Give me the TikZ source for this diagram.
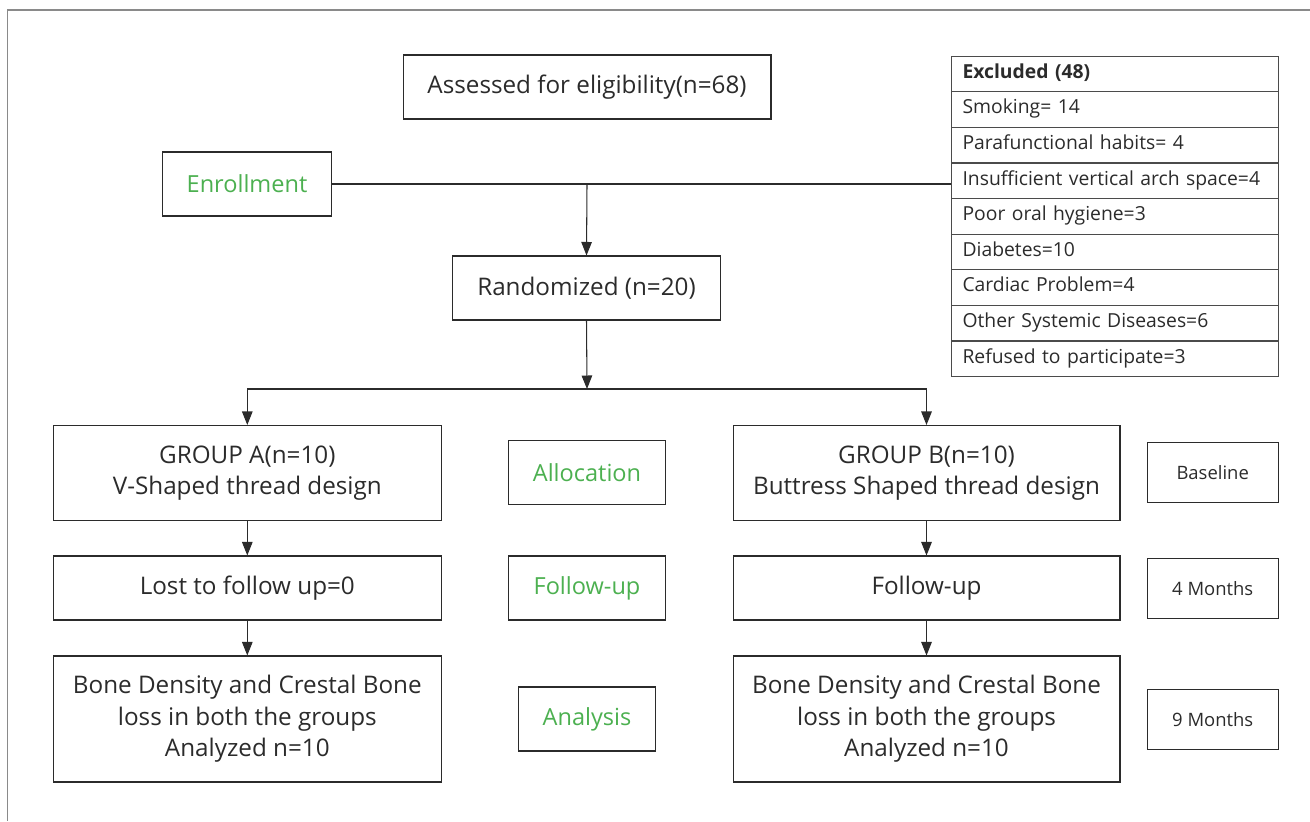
\documentclass[tikz,border=0pt]{standalone}
\usepackage{fontspec}
\setmainfont{Open Sans}
\usetikzlibrary{arrows.meta}
\definecolor{txt}{HTML}{2B2B2B}
\definecolor{grn}{HTML}{4CB050}
\definecolor{framegray}{HTML}{8A8A8A}
\begin{document}
\begin{tikzpicture}[x=0.02cm, y=-0.02cm, >={Triangle[length=2.7mm,width=2.1mm]},
  box/.style={draw=txt, line width=0.6pt, text=txt, align=center, inner sep=0pt, font=\fontsize{13.8}{18}\selectfont},
  lab/.style={box, text=grn, font=\fontsize{13.4}{16}\selectfont},
  tm/.style={box, font=\fontsize{10.5}{13}\selectfont},
  row/.style={draw=txt!85, line width=0.6pt, text=txt, anchor=north west, text width=6.1cm, inner xsep=0.22cm, inner ysep=0pt, minimum height=0.712cm, text height=2.4mm, text depth=0.7mm, font=\fontsize{11}{12}\selectfont},
  conn/.style={draw=txt, line width=0.6pt}]
\useasboundingbox (0,0) rectangle (1310,821);
\draw[framegray, line width=1pt] (1310,10) -- (7.5,10) -- (7.5,821);

\node[box, minimum width=7.36cm, minimum height=1.28cm] (assess) at (587,87) {Assessed for eligibility(n=68)};
\node[lab, minimum width=3.38cm, minimum height=1.28cm] (enroll) at (247,184) {Enrollment};
\node[box, minimum width=5.36cm, minimum height=1.28cm] (rand) at (586.5,288) {Randomized (n=20)};

\foreach \t [count=\i] in {\textbf{Excluded (48)}, Smoking= 14, Parafunctional habits= 4,
  Insufficient vertical arch space=4, Poor oral hygiene=3, Diabetes=10, Cardiac Problem=4,
  Other Systemic Diseases=6, Refused to participate=3}
  \node[row] (ex\i) at (951,{55.7+35.6*(\i-1)}) {\t};

\node[box, minimum width=7.76cm, minimum height=1.9cm] (groupA) at (247.3,473) {GROUP A(n=10)\\V-Shaped thread design};
\node[lab, minimum width=3.14cm, minimum height=1.28cm] (alloc) at (587,472.3) {Allocation};
\node[box, minimum width=7.74cm, minimum height=1.9cm] (groupB) at (926.5,473) {GROUP B(n=10)\\Buttress Shaped thread design};
\node[tm, minimum width=2.62cm, minimum height=1.2cm] (base) at (1212.7,472.3) {Baseline};

\node[box, minimum width=7.76cm, minimum height=1.28cm] (lostA) at (247.3,588) {Lost to follow up=0};
\node[lab, minimum width=3.14cm, minimum height=1.28cm] (fup) at (587,588) {Follow-up};
\node[box, minimum width=7.74cm, minimum height=1.28cm] (fupB) at (926.5,588) {Follow-up};
\node[tm, minimum width=2.62cm, minimum height=1.2cm] (mon4) at (1212.7,588.3) {4 Months};

\node[box, minimum width=7.76cm, minimum height=2.52cm] (boneA) at (247.3,719) {Bone Density and Crestal Bone\\loss in both the groups\\Analyzed n=10};
\node[lab, minimum width=2.74cm, minimum height=1.28cm] (anl) at (587,719) {Analysis};
\node[box, minimum width=7.74cm, minimum height=2.52cm] (boneB) at (926.5,719) {Bone Density and Crestal Bone\\loss in both the groups\\Analyzed n=10};
\node[tm, minimum width=2.62cm, minimum height=1.2cm] (mon9) at (1212.7,719.3) {9 Months};

\coordinate (s1) at (587,184);
\coordinate (s2) at (587,389);
\coordinate (ca) at (groupA.north |- s2);
\coordinate (cb) at (groupB.north |- s2);
\draw[conn] (enroll.east) -- (enroll.east -| ex4.west);
\draw[conn,->] (s1) -- (rand.north);
\draw[conn,->] (rand.south) -- (s2);
\draw[conn] (ca) -- (cb);
\draw[conn,->] (ca) -- (groupA.north);
\draw[conn,->] (cb) -- (groupB.north);
\draw[conn,->] (groupA) -- (lostA);
\draw[conn,->] (lostA) -- (boneA);
\draw[conn,->] (groupB) -- (fupB);
\draw[conn,->] (fupB) -- (boneB);

\end{tikzpicture}
\end{document}
